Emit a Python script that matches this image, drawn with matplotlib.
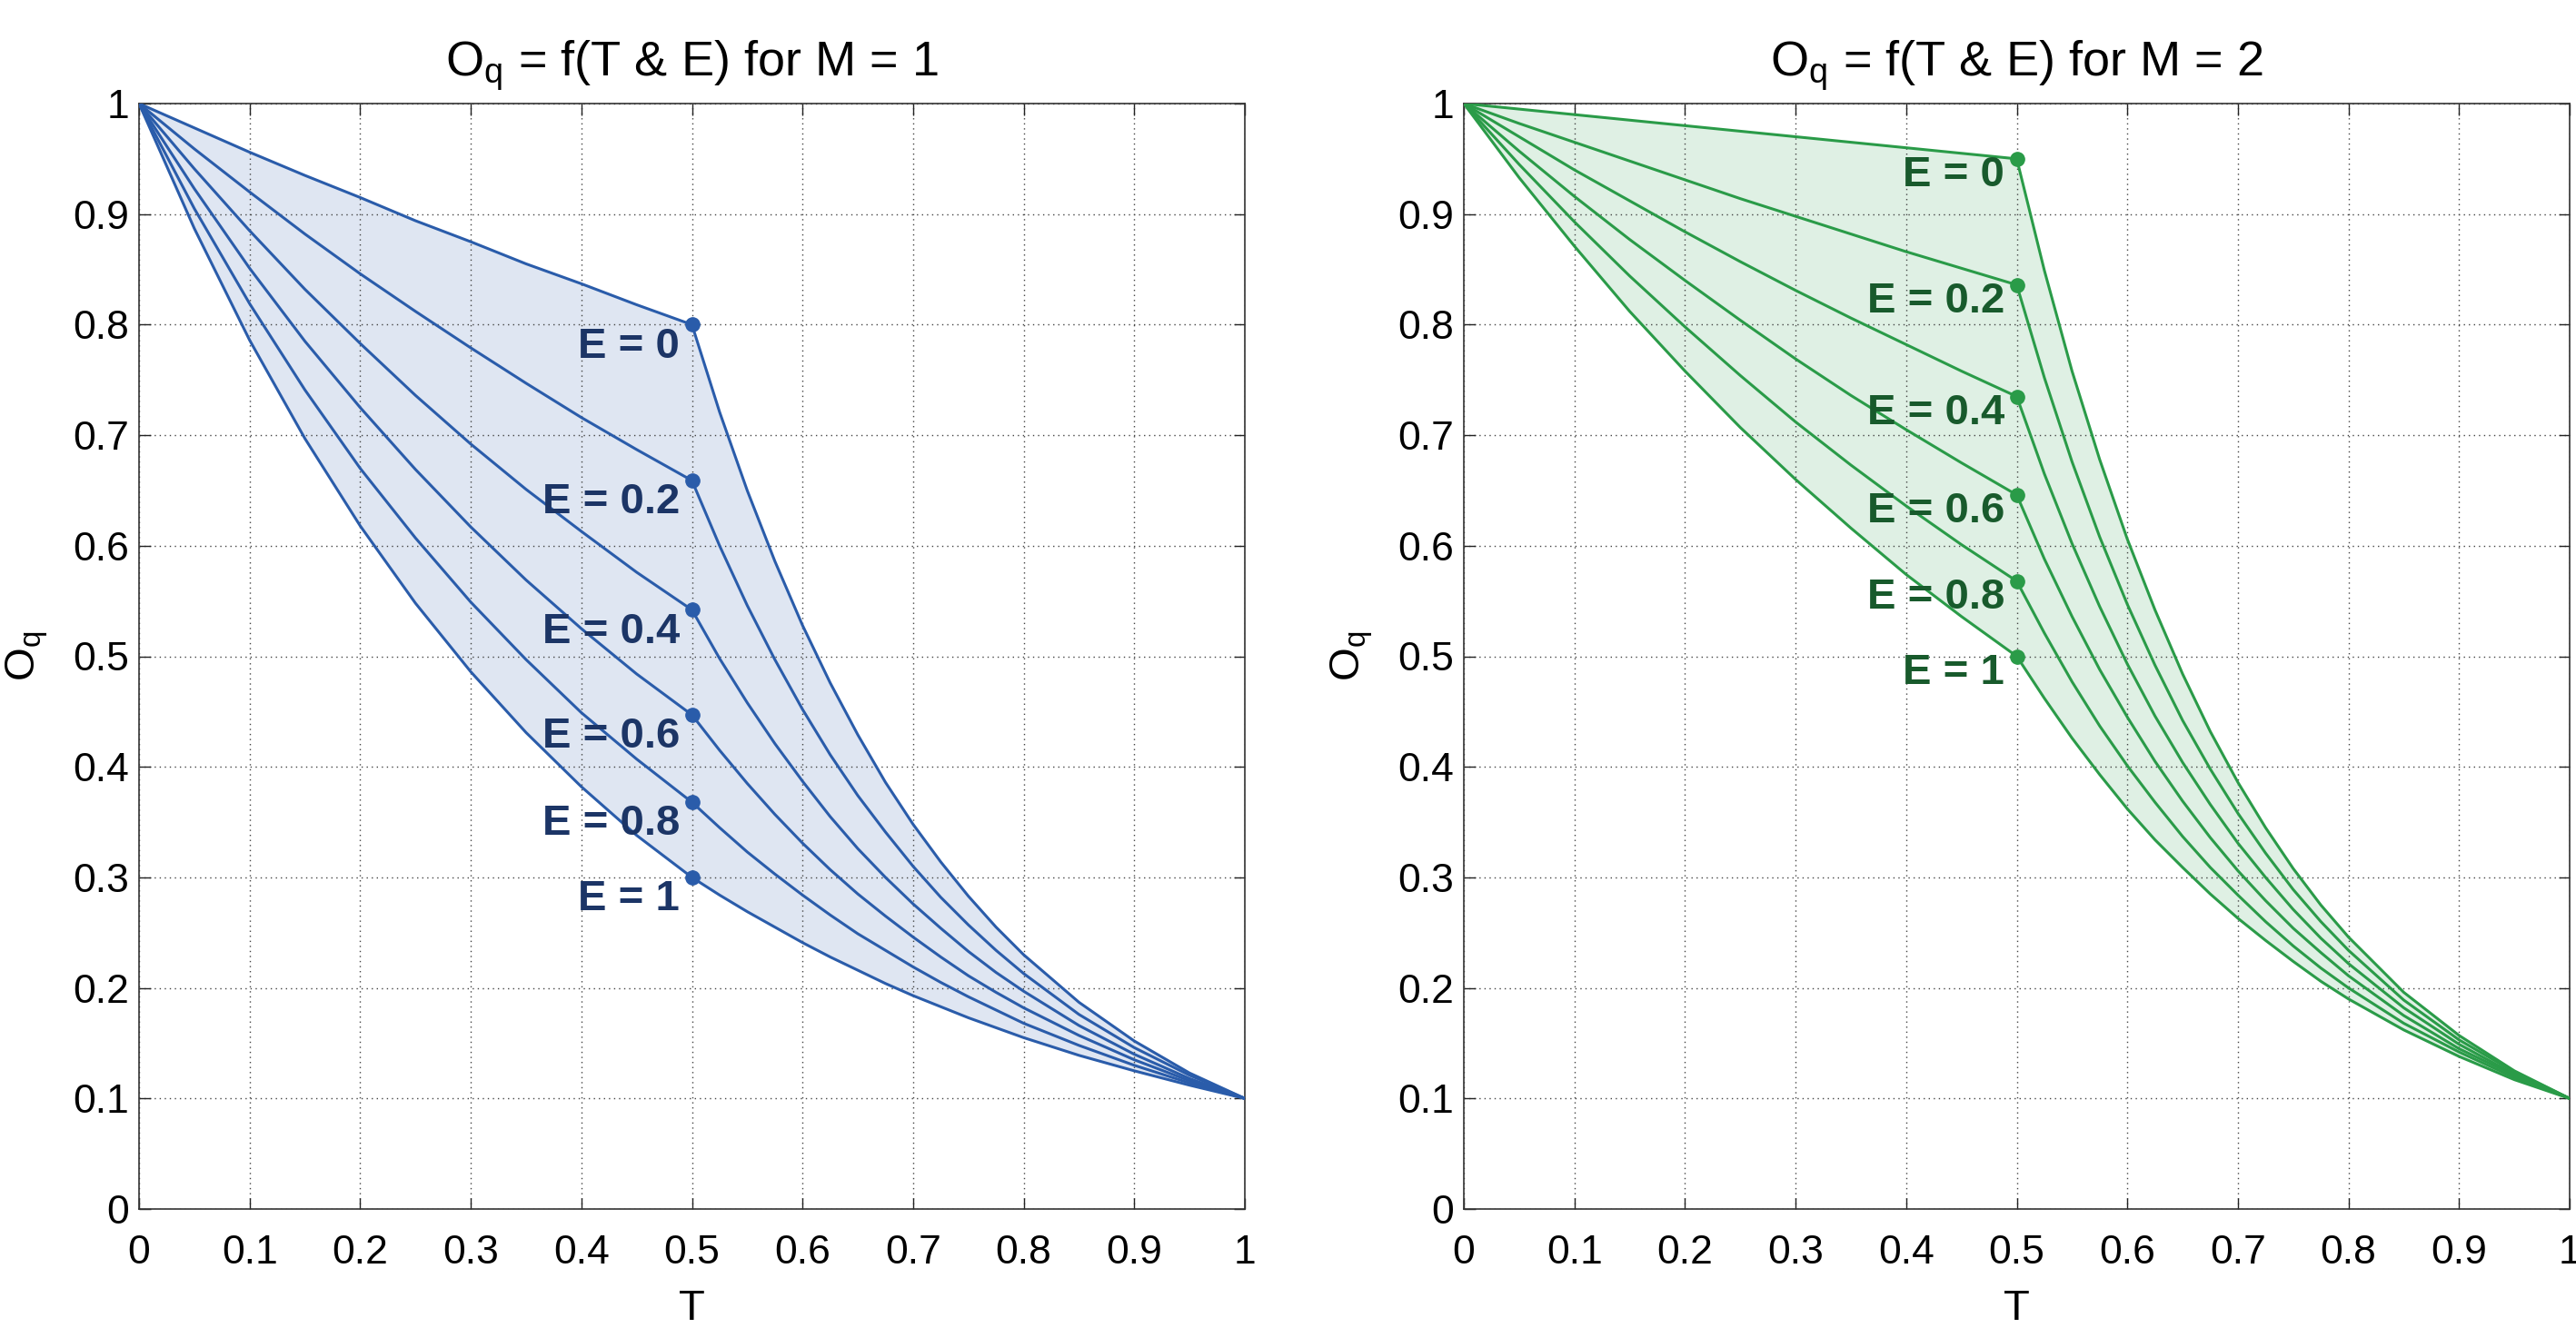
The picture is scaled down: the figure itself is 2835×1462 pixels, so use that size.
import matplotlib
matplotlib.use("Agg")
import matplotlib.pyplot as plt

plt.rcParams["font.family"] = ["Liberation Sans", "DejaVu Sans"]

# ---- data ----
T = [0.00, 0.05, 0.10, 0.15, 0.20, 0.25, 0.30, 0.35, 0.40, 0.45, 0.50,
     0.525, 0.55, 0.575, 0.60, 0.625, 0.65, 0.675, 0.70, 0.725, 0.75, 0.775, 0.80,
     0.85, 0.90, 0.95, 1.00]
E_labels = ["E = 0", "E = 0.2", "E = 0.4", "E = 0.6", "E = 0.8", "E = 1"]
T_mark = 0.5

# M = 1
m1_e00 = [1.000, 0.978, 0.956, 0.935, 0.915, 0.894, 0.875, 0.855, 0.837, 0.818, 0.800,
          0.721, 0.650, 0.586, 0.528, 0.476, 0.429, 0.386, 0.348, 0.314, 0.283, 0.255, 0.230,
          0.187, 0.152, 0.123, 0.100]
m1_e02 = [1.000, 0.959, 0.920, 0.882, 0.846, 0.812, 0.779, 0.747, 0.716, 0.687, 0.659,
          0.600, 0.546, 0.497, 0.452, 0.411, 0.374, 0.341, 0.310, 0.282, 0.257, 0.234, 0.213,
          0.176, 0.146, 0.121, 0.100]
m1_e04 = [1.000, 0.941, 0.885, 0.832, 0.783, 0.736, 0.692, 0.651, 0.613, 0.576, 0.542,
          0.498, 0.458, 0.421, 0.387, 0.355, 0.326, 0.300, 0.276, 0.254, 0.233, 0.214, 0.197,
          0.166, 0.140, 0.118, 0.100]
m1_e06 = [1.000, 0.923, 0.851, 0.785, 0.725, 0.669, 0.617, 0.569, 0.525, 0.484, 0.447,
          0.415, 0.385, 0.357, 0.331, 0.307, 0.285, 0.265, 0.246, 0.228, 0.211, 0.196, 0.182,
          0.157, 0.135, 0.116, 0.100]
m1_e08 = [1.000, 0.905, 0.819, 0.741, 0.670, 0.607, 0.549, 0.497, 0.449, 0.407, 0.368,
          0.345, 0.323, 0.303, 0.284, 0.266, 0.249, 0.234, 0.219, 0.205, 0.192, 0.180, 0.168,
          0.148, 0.130, 0.114, 0.100]
m1_e10 = [1.000, 0.887, 0.786, 0.697, 0.618, 0.548, 0.486, 0.431, 0.382, 0.338, 0.300,
          0.284, 0.269, 0.255, 0.241, 0.228, 0.216, 0.204, 0.193, 0.183, 0.173, 0.164, 0.155,
          0.139, 0.125, 0.112, 0.100]

# M = 2
m2_e00 = [1.000, 0.995, 0.990, 0.985, 0.980, 0.975, 0.970, 0.965, 0.960, 0.955, 0.950,
          0.849, 0.758, 0.678, 0.606, 0.542, 0.484, 0.432, 0.386, 0.345, 0.308, 0.275, 0.246,
          0.196, 0.157, 0.125, 0.100]
m2_e02 = [1.000, 0.982, 0.965, 0.948, 0.931, 0.914, 0.898, 0.882, 0.866, 0.851, 0.836,
          0.752, 0.676, 0.608, 0.547, 0.492, 0.442, 0.398, 0.358, 0.322, 0.289, 0.260, 0.234,
          0.189, 0.153, 0.124, 0.100]
m2_e04 = [1.000, 0.970, 0.940, 0.912, 0.884, 0.857, 0.831, 0.806, 0.782, 0.758, 0.735,
          0.665, 0.602, 0.545, 0.493, 0.446, 0.404, 0.366, 0.331, 0.300, 0.271, 0.245, 0.222,
          0.182, 0.149, 0.122, 0.100]
m2_e06 = [1.000, 0.957, 0.916, 0.877, 0.840, 0.804, 0.769, 0.736, 0.705, 0.675, 0.646,
          0.588, 0.536, 0.488, 0.445, 0.405, 0.369, 0.336, 0.306, 0.279, 0.254, 0.232, 0.211,
          0.175, 0.145, 0.121, 0.100]
m2_e08 = [1.000, 0.945, 0.893, 0.844, 0.798, 0.754, 0.712, 0.673, 0.636, 0.601, 0.568,
          0.521, 0.477, 0.437, 0.401, 0.368, 0.337, 0.309, 0.284, 0.260, 0.238, 0.218, 0.200,
          0.168, 0.142, 0.119, 0.100]
m2_e10 = [1.000, 0.933, 0.871, 0.812, 0.758, 0.707, 0.660, 0.616, 0.574, 0.536, 0.500,
          0.462, 0.426, 0.393, 0.362, 0.334, 0.309, 0.285, 0.263, 0.243, 0.224, 0.206, 0.190,
          0.162, 0.138, 0.117, 0.100]

tick_vals = [0.0, 0.1, 0.2, 0.3, 0.4, 0.5, 0.6, 0.7, 0.8, 0.9, 1.0]
tick_labels = ["0", "0.1", "0.2", "0.3", "0.4", "0.5", "0.6", "0.7", "0.8", "0.9", "1"]

panels = [
    dict(curves=[m1_e00, m1_e02, m1_e04, m1_e06, m1_e08, m1_e10],
         title=r"$\mathregular{O_q}$ = f(T & E) for M = 1",
         line="#2a5caa", fill="#dfe6f2", text="#1c3566", dy=-17.5),
    dict(curves=[m2_e00, m2_e02, m2_e04, m2_e06, m2_e08, m2_e10],
         title=r"$\mathregular{O_q}$ = f(T & E) for M = 2",
         line="#2a9b48", fill="#dff0e4", text="#185a2c", dy=-13.0),
]

W, H = 2835, 1462
fig = plt.figure(figsize=(W / 100, H / 100), dpi=100)
ax_rects = [
    [153 / W, 131 / H, 1217 / W, 1217 / H],
    [1611 / W, 131 / H, 1217 / W, 1217 / H],
]

for rect, p in zip(ax_rects, panels):
    ax = fig.add_axes(rect)
    curves = p["curves"]
    ax.fill_between(T, curves[-1], curves[0], color=p["fill"], lw=0, zorder=1)
    i_mark = T.index(T_mark)
    for vals, lab in zip(curves, E_labels):
        ax.plot(T, vals, color=p["line"], lw=2.2, zorder=3, solid_joinstyle="round")
        ax.plot([T_mark], [vals[i_mark]], "o", ms=11, color=p["line"], zorder=4)
        ax.annotate(lab, xy=(T_mark, vals[i_mark]), xytext=(-9.5, p["dy"]),
                    textcoords="offset points", ha="right", va="center",
                    fontsize=34, fontweight="bold", color=p["text"], zorder=5)
    ax.set_xlim(0, 1)
    ax.set_ylim(0, 1)
    ax.set_xticks(tick_vals)
    ax.set_xticklabels(tick_labels)
    ax.set_yticks(tick_vals)
    ax.set_yticklabels(tick_labels)
    ax.grid(True, linestyle=(0, (1, 3)), color="#444444", lw=1.0)
    ax.tick_params(direction="in", length=9, width=1.0, top=True, right=True,
                   labelsize=32, colors="#222222", labelcolor="black")
    ax.tick_params(axis="x", pad=20)
    ax.tick_params(axis="y", pad=8)
    for s in ax.spines.values():
        s.set_color("#333333")
        s.set_linewidth(1.2)
    ax.set_title(p["title"], fontsize=39, pad=22)
    ax.set_xlabel("T", fontsize=34, labelpad=14)
    ax.set_ylabel(r"$\mathregular{O_q}$", fontsize=34, labelpad=18)

fig.savefig("out.png", dpi=100)
